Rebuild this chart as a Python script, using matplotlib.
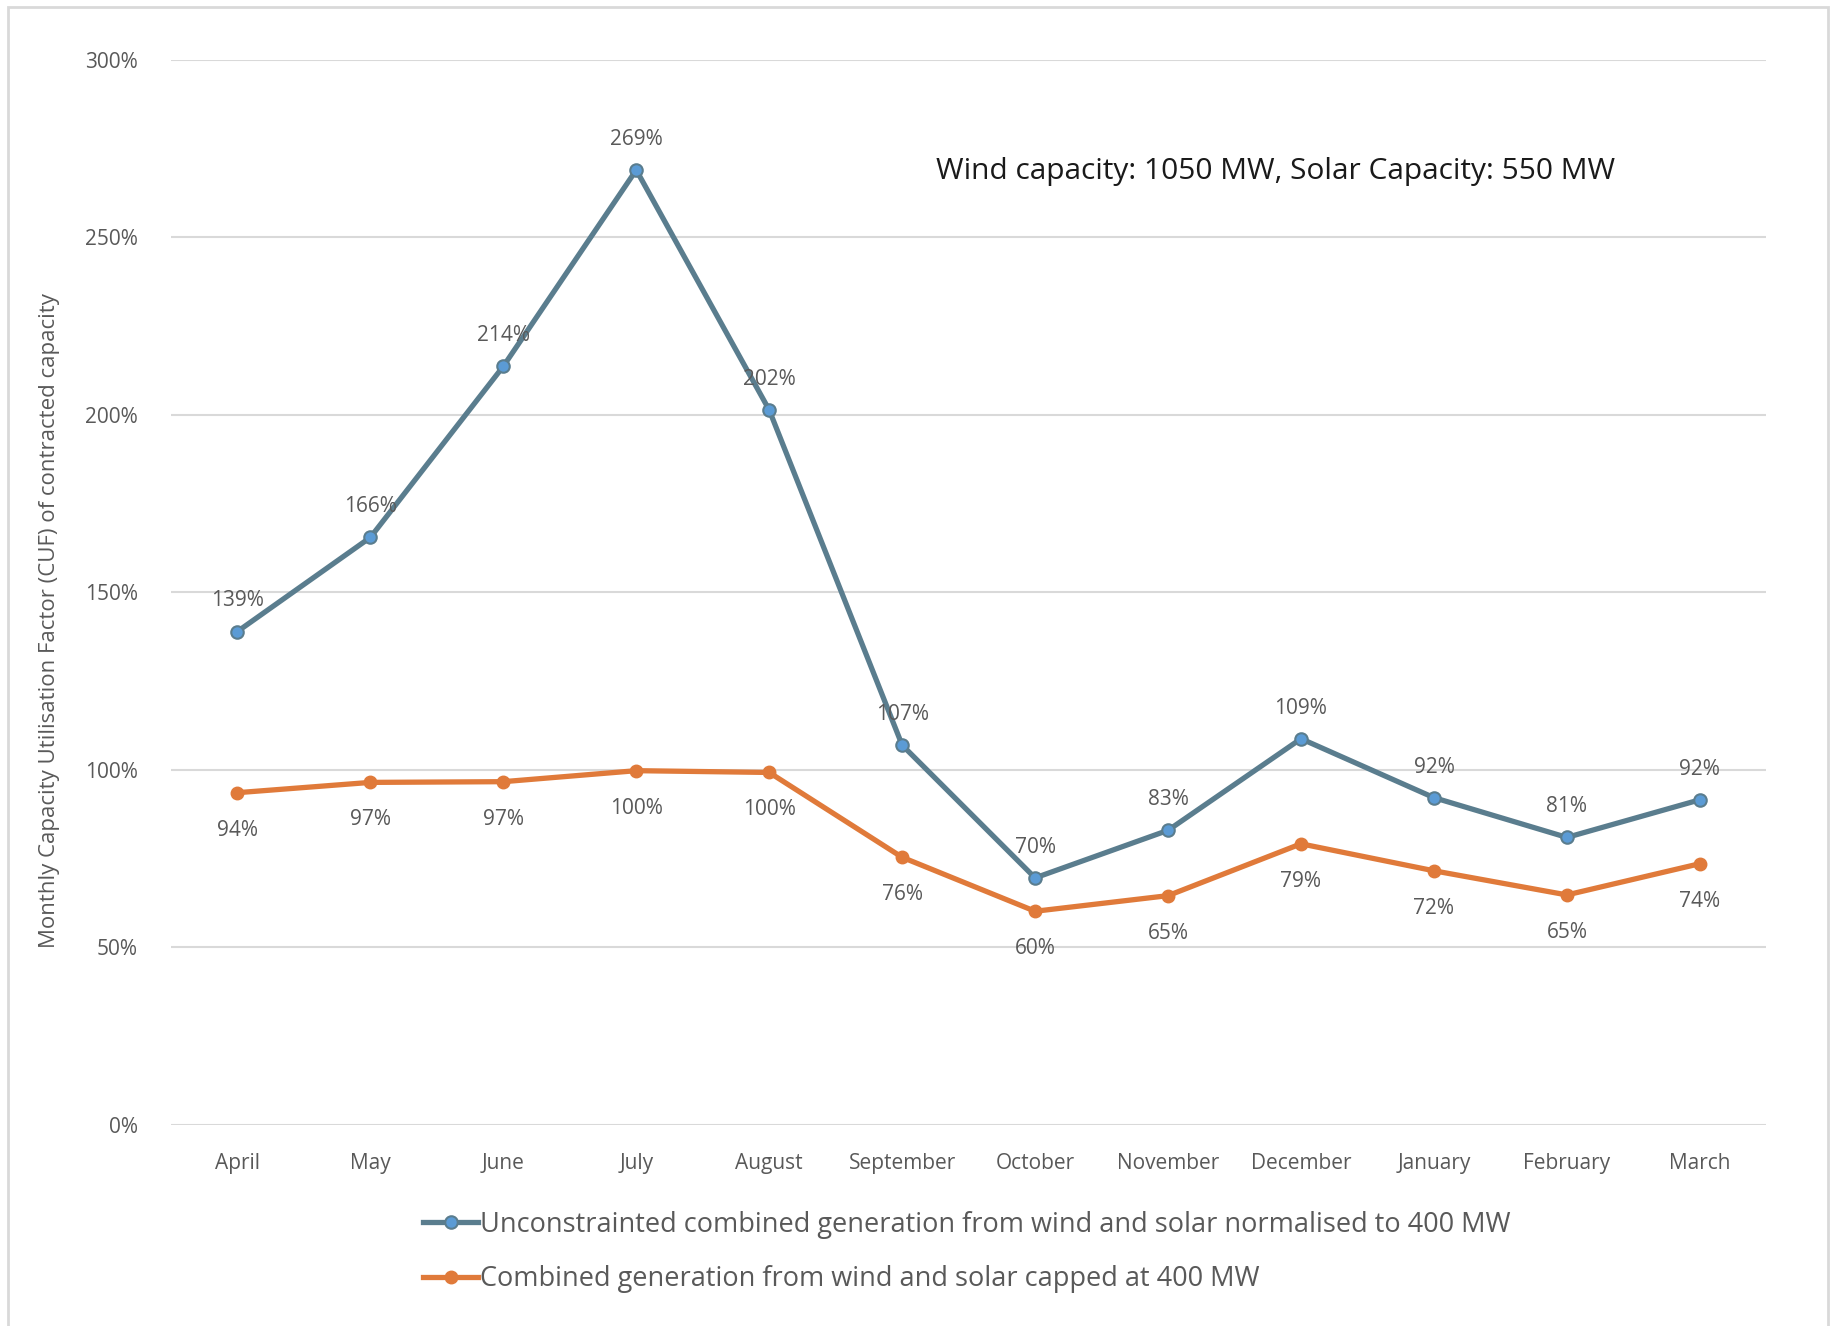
import numpy as np
import matplotlib
matplotlib.use("Agg")
import matplotlib.pyplot as plt
from matplotlib.patches import Rectangle

months = ['April', 'May', 'June', 'July', 'August', 'September', 'October',
          'November', 'December', 'January', 'February', 'March']
unconstrained = [139, 166, 214, 269, 202, 107, 70, 83, 109, 92, 81, 92]
capped = [94, 97, 97, 100, 100, 76, 60, 65, 79, 72, 65, 74]
# plotted positions (labels are rounded from these)
unconstrained_pos = [139, 165.5, 213.7, 269, 201.4, 107, 69.6, 83, 108.8, 92.2, 81, 91.6]
capped_pos = [93.6, 96.5, 96.7, 99.8, 99.3, 75.4, 60.2, 64.6, 79.2, 71.6, 64.8, 73.6]
yticks = [0, 50, 100, 150, 200, 250, 300]

txt = '#595959'
blue_line = '#5A7D8E'
blue_mark = '#5B9BD5'
orange = '#E07A3A'

plt.rcParams['font.family'] = ['Open Sans', 'DejaVu Sans']

fig = plt.figure(figsize=(18.38, 13.26), dpi=100)
ax = fig.add_axes([0.093, 0.1516, 0.868, 0.8032])

x = np.arange(len(months))
l1, = ax.plot(x, unconstrained_pos, color=blue_line, lw=3.8, marker='o', ms=9,
              mfc=blue_mark, mec=blue_line, mew=1.5, zorder=3,
              label='Unconstrainted combined generation from wind and solar normalised to 400 MW')
l2, = ax.plot(x, capped_pos, color=orange, lw=3.8, marker='o', ms=9,
              mfc=orange, mec=orange, zorder=3,
              label='Combined generation from wind and solar capped at 400 MW')

for i in range(len(months)):
    ax.annotate(f'{unconstrained[i]}%', (x[i], unconstrained_pos[i]), xytext=(0, 22),
                textcoords='offset points', ha='center', va='center', fontsize=15, color=txt)
    ax.annotate(f'{capped[i]}%', (x[i], capped_pos[i]), xytext=(0, -27),
                textcoords='offset points', ha='center', va='center', fontsize=15, color=txt)

ax.set_xlim(-0.5, len(months) - 0.5)
ax.set_ylim(0, 300)
ax.set_yticks(yticks)
ax.set_yticklabels([f'{v}%' for v in yticks])
ax.set_xticks(x)
ax.set_xticklabels(months)
ax.tick_params(axis='both', length=0, labelsize=15, labelcolor=txt)
ax.tick_params(axis='y', pad=24)
ax.tick_params(axis='x', pad=20)
ax.grid(axis='y', color='#D9D9D9', lw=1.5)
ax.set_axisbelow(True)
for s in ax.spines.values():
    s.set_visible(False)

fig.text(0.027, 0.532, 'Monthly Capacity Utilisation Factor (CUF) of contracted capacity',
         rotation=90, ha='center', va='center', fontsize=16, color=txt)
ax.text(0.694, 0.871, 'Wind capacity: 1050 MW, Solar Capacity: 550 MW',
        transform=fig.transFigure, ha='center', va='center', fontsize=21.5, color='#1a1a1a')

fig.legend(handles=[l1, l2], loc='upper left', bbox_to_anchor=(0.2245, 0.095),
           frameon=False, fontsize=19.5, labelcolor=txt, handlelength=2.0,
           handletextpad=0.1, labelspacing=0.98, borderaxespad=0)

fig.patches.append(Rectangle((0.0045, -0.1), 0.99, 1.0947, transform=fig.transFigure,
                             fill=False, ec='#D9D9D9', lw=2))

fig.savefig('out.png', dpi=100)
